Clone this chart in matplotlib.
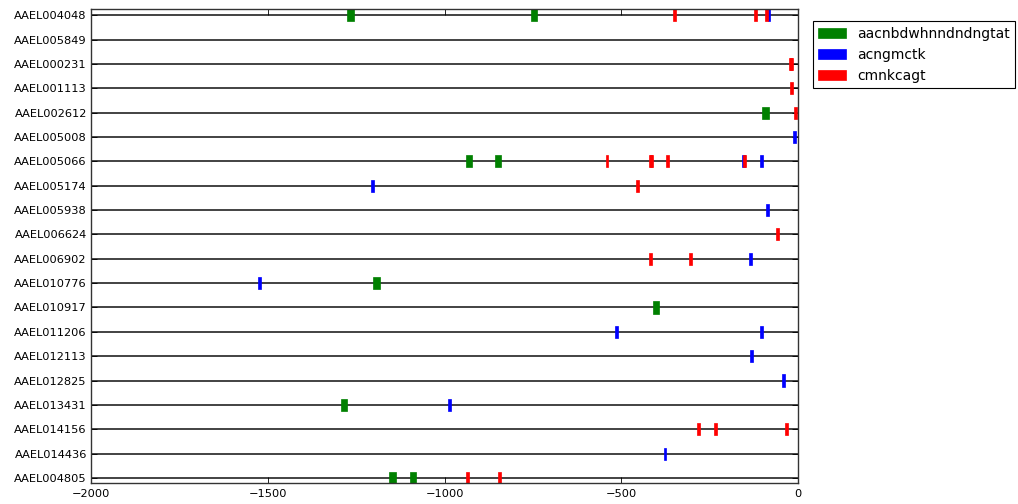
import matplotlib
matplotlib.use("Agg")
import matplotlib.pyplot as plt

# Genes, top to bottom
genes = ["AAEL004048", "AAEL005849", "AAEL000231", "AAEL001113", "AAEL002612",
         "AAEL005008", "AAEL005066", "AAEL005174", "AAEL005938", "AAEL006624",
         "AAEL006902", "AAEL010776", "AAEL010917", "AAEL011206", "AAEL012113",
         "AAEL012825", "AAEL013431", "AAEL014156", "AAEL014436", "AAEL004805"]

# Motifs and their colours
motifs = ["aacnbdwhnndndngtat", "acngmctk", "cmnkcagt"]
motif_colors = ["#008000", "#0000ff", "#ff0000"]

# Motif hit positions (bp upstream of the start) for each gene
hits_aacnbdwhnndndngtat = {
    "AAEL004048": [-1275, -757],
    "AAEL002612": [-102],
    "AAEL005066": [-940, -858],
    "AAEL010776": [-1202],
    "AAEL010917": [-411],
    "AAEL013431": [-1293],
    "AAEL004805": [-1157, -1098],
}
hits_acngmctk = {
    "AAEL004048": [-87],
    "AAEL005008": [-15],
    "AAEL005066": [-160, -108],
    "AAEL005174": [-1209],
    "AAEL005938": [-91],
    "AAEL006902": [-140],
    "AAEL010776": [-1527],
    "AAEL011206": [-519, -108],
    "AAEL012113": [-136],
    "AAEL012825": [-47],
    "AAEL013431": [-990],
    "AAEL014436": [-381],
}
hits_cmnkcagt = {
    "AAEL004048": [-353, -125, -94],
    "AAEL000231": [-27, -24],
    "AAEL001113": [-24],
    "AAEL002612": [-11],
    "AAEL005066": [-545, -423, -418, -375, -157],
    "AAEL005174": [-459],
    "AAEL006624": [-63],
    "AAEL006902": [-423, -309],
    "AAEL014156": [-287, -238, -38],
    "AAEL004805": [-940, -849],
}
motif_hits = [hits_aacnbdwhnndndngtat, hits_acngmctk, hits_cmnkcagt]

fig = plt.figure(figsize=(10.18, 5.04), dpi=100)
ax = fig.add_axes([0.0894, 0.041, 0.6948, 0.941])

# one baseline per gene
for i in range(len(genes)):
    ax.axhline(i, color="#222222", lw=1.2, zorder=1)

for motif, color, hits in zip(motifs, motif_colors, motif_hits):
    ys, lefts = [], []
    for gene, positions in hits.items():
        for p in positions:
            ys.append(genes.index(gene))
            lefts.append(p)
    ax.barh(ys, [len(motif)] * len(ys), left=lefts, height=0.5,
            color=color, edgecolor=color, linewidth=0.5, zorder=2,
            label=motif)

ax.set_xlim(-2000, 0)
ax.set_ylim(19.22, -0.25)
ax.set_yticks(range(len(genes)))
ax.set_yticklabels(genes, fontsize=8.2)
ax.set_xticks([-2000, -1500, -1000, -500, 0])
ax.set_xticklabels(["\u22122000", "\u22121500", "\u22121000", "\u2212500", "0"],
                   fontsize=8.2)
ax.tick_params(axis="x", direction="in", top=True, length=4, width=0.6, pad=4)
ax.tick_params(axis="y", direction="in", right=True, length=4, width=0.6, pad=3)
for s in ax.spines.values():
    s.set_color("#333333")
    s.set_linewidth(1.0)

leg = ax.legend(loc="upper left", bbox_to_anchor=(1.0203, 0.9747),
                borderaxespad=0, fontsize=10, fancybox=False, framealpha=1,
                edgecolor="black", handlelength=2.0, handleheight=0.7)
leg.get_frame().set_linewidth(0.8)

fig.savefig("out.png", dpi=100)
